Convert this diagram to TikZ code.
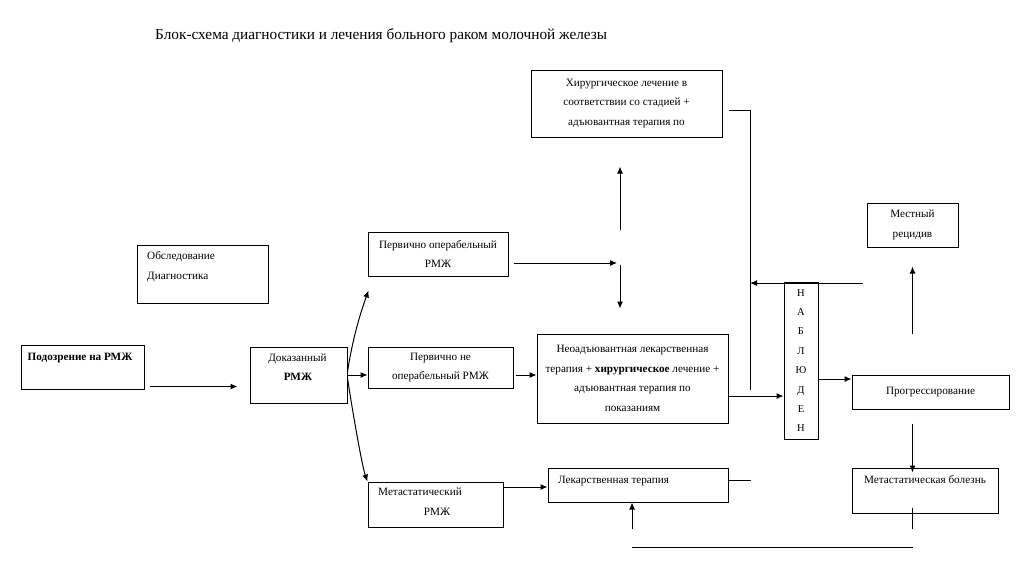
\documentclass[tikz,border=0pt]{standalone}
\usepackage{fontspec}
\setmainfont{Liberation Serif}
\usetikzlibrary{arrows.meta,calc}
\begin{document}
\begin{tikzpicture}[x=1pt,y=-1pt,
  box/.style={draw, line width=1pt, inner sep=0pt, align=center, font=\fontsize{11.2}{19.5}\selectfont},
  txt/.style={inner sep=0pt, font=\fontsize{11.2}{19.5}\selectfont},
  arr/.style={-{Latex[length=7pt,width=6pt]}, line width=1pt},
  ln/.style={line width=1pt}]
\useasboundingbox (0,0) rectangle (1024,576);
\fill[white] (0,0) rectangle (1024,576);
% title
\node[anchor=mid west, inner sep=0pt, font=\fontsize{15.3}{17}\selectfont] (title) at (155,37) {Блок-схема диагностики и лечения больного раком молочной железы};
% boxes
\node[box, minimum width=191pt, minimum height=67pt] (top) at (626.5,103.5) {Хирургическое лечение в\\соответствии со стадией +\\адъювантная терапия по};
\node[box, minimum width=131pt, minimum height=58pt] (obsl) at (202.5,274) {};
\node[txt, anchor=mid west] (obslA) at (147,257) {Обследование};
\node[txt, anchor=mid west] (obslB) at (147,277) {Диагностика};
\node[box, minimum width=123pt, minimum height=44pt] (podoz) at (82.5,367) {};
\node[txt, anchor=mid, font=\fontsize{11.2}{19.5}\selectfont\bfseries] (podozT) at (80,358) {Подозрение на РМЖ};
\node[box, minimum width=97pt, minimum height=56pt] (dokaz) at (298.5,375) {};
\node[txt, anchor=mid] (dokazA) at (297.5,359) {Доказанный};
\node[txt, anchor=mid, font=\fontsize{11.2}{19.5}\selectfont\bfseries] (dokazB) at (298,378) {РМЖ};
\node[box, minimum width=140pt, minimum height=44pt] (pervop) at (438,254) {Первично операбельный\\РМЖ};
\node[box, minimum width=145pt, minimum height=41pt] (pervne) at (440.5,367.5) {Первично не\\операбельный РМЖ};
\node[box, minimum width=191pt, minimum height=89pt] (neo) at (632.5,378.5) {Неоадъювантная лекарственная\\терапия + \textbf{хирургическое} лечение +\\адъювантная терапия по\\показаниям};
\node[box, minimum width=34pt, minimum height=157pt, font=\fontsize{10.5}{19.4}\selectfont] (nabl) at (801,360.5) {Н\\А\\Б\\Л\\Ю\\Д\\Е\\Н};
\node[box, minimum width=157pt, minimum height=34pt] (progr) at (930.5,392) {Прогрессирование};
\node[box, minimum width=91pt, minimum height=44pt] (local) at (912.5,225) {Местный\\рецидив};
\node[box, minimum width=146pt, minimum height=45pt] (metdis) at (925,490.5) {};
\node[txt, anchor=mid] (metdisT) at (925,481) {Метастатическая болезнь};
\node[box, minimum width=180pt, minimum height=34pt] (lek) at (638,485) {};
\node[txt, anchor=mid west] (lekT) at (558,481) {Лекарственная терапия};
\node[box, minimum width=135pt, minimum height=45pt] (metast) at (435.5,504.5) {};
\node[txt, anchor=mid west] (metastA) at (378,493) {Метастатический};
\node[txt, anchor=mid] (metastB) at (437,513) {РМЖ};
% coordinates
\coordinate (hub) at (620,263);
\coordinate (vend) at (750,390);
\coordinate (rstart) at (863,283);
\coordinate (bl) at (632,547);
% connectors
\draw[arr] ($(podoz.south east)+(5,-3)$) -- ($(dokaz.west|-podoz.south)+(-12,-3)$);
\draw[arr] ($(dokaz.east)+(0,-3)$) .. controls +(6,-40) and +(-5,14) .. ($(pervop.south west)+(1,14)$);
\draw[arr] (dokaz.east) -- (dokaz.east -| pervne.west);
\draw[arr] ($(dokaz.east)+(0,3)$) .. controls +(6,40) and +(-5,-14) .. (metast.north west);
\draw[arr] ($(pervop.east)+(5,9)$) -- ($(hub)+(-3,0)$);
\draw[arr] ($(hub)+(0,-33)$) -- ($(hub|-top.south)+(0,29)$);
\draw[arr] ($(hub)+(0,2)$) -- ($(hub|-neo.north)+(0,-25)$);
\draw[arr] ($(pervne.east)+(2,7.5)$) -- ($(neo.west|-pervne.east)+(0,7.5)$);
\draw[ln] ($(top.east)+(6,6.5)$) -| (vend);
\draw[arr] (rstart) -- (rstart -| vend);
\draw[arr] ($(neo.east)+(0,17.5)$) -- ($(nabl.west|-neo.east)+(0,17.5)$);
\draw[arr] ($(nabl.east)+(0,18.5)$) -- ($(progr.west|-nabl.east)+(0,18.5)$);
\draw[arr] ($(local.south)+(0,86)$) -- ($(local.south)+(0,19)$);
\draw[arr] ($(local.south|-progr.south)+(0,14)$) -- ($(local.south|-metdis.north)+(0,5)$);
\draw[ln] ($(local.south|-metdis.south)+(0,-6)$) -- ($(local.south|-metdis.south)+(0,15)$);
\draw[ln] (bl) -- (bl -| local.south);
\draw[arr] ($(bl)+(0,-18)$) -- (bl |- lek.south);
\draw[arr] ($(metast.east)+(0,-17.5)$) -- ($(lek.west|-metast.east)+(0,-17.5)$);
\draw[ln] ($(lek.east)+(0,-5)$) -- ($(lek.east)+(22,-5)$);
\end{tikzpicture}
\end{document}
